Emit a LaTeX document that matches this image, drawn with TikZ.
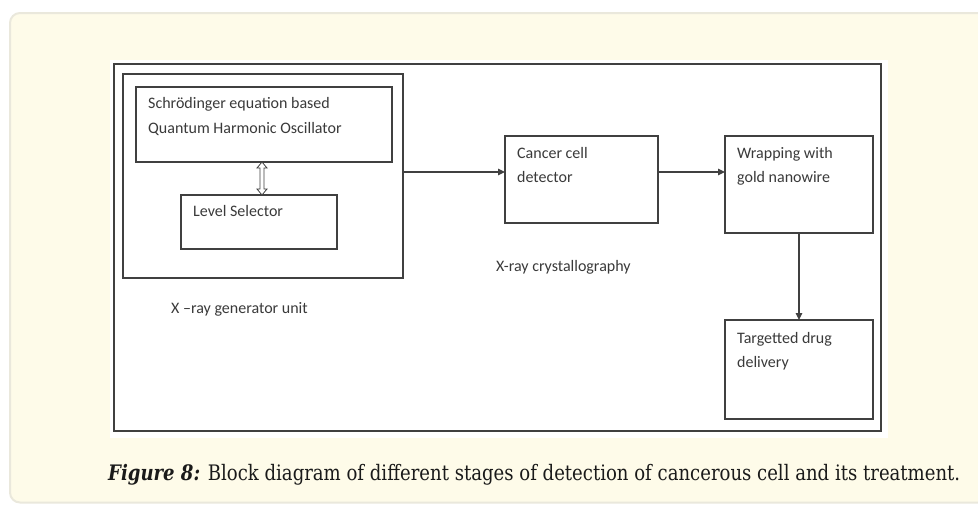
\documentclass[tikz,border=0pt]{standalone}
\usepackage{graphicx}
\usepackage{fontspec}
\setmainfont{Carlito}
\newfontfamily\capfont{DejaVu Serif}
\usetikzlibrary{arrows.meta}
\definecolor{cream}{HTML}{FEFBE9}
\definecolor{panelline}{HTML}{EAE8DC}
\definecolor{boxline}{HTML}{404040}
\definecolor{txt}{HTML}{3A3A3A}
\definecolor{captxt}{HTML}{1A1A1A}
\tikzset{
  blk/.style={draw=boxline, line width=1.2pt, inner sep=0pt, outer sep=0pt, fill=white},
  lbl/.style={anchor=base west, inner sep=0pt, text=txt, font=\fontsize{16}{20}\selectfont},
  conn/.style={draw=boxline, line width=1.1pt, -{Triangle[length=7pt,width=6.5pt]}},
}
\begin{document}
\begin{tikzpicture}[x=1pt,y=-1pt]
\useasboundingbox (0,0) rectangle (978,504);
% panel
\draw[rounded corners=10pt, fill=cream, draw=panelline, line width=2pt] (10,13) rectangle (1010,502.5);
\fill[white] (110,60) rectangle (888,438);
% frame and blocks
\node[blk, line width=1.4pt, minimum width=767pt, minimum height=367pt] (frame) at (497.5,247.5) {};
\node[blk, minimum width=280pt, minimum height=204pt] (grp) at (263,176) {};
\node[blk, minimum width=256pt, minimum height=75pt] (qho) at (264,124.5) {};
\node[blk, minimum width=156pt, minimum height=54pt] (lvl) at (259,222) {};
\node[blk, minimum width=153pt, minimum height=87pt] (cancer) at (581.5,179.5) {};
\node[blk, minimum width=148pt, minimum height=97pt] (wrap) at (799,184.5) {};
\node[blk, minimum width=148pt, minimum height=99pt] (targ) at (799,369.5) {};
% texts
\node[lbl] (qho1) at (148,108) {Schrödinger equation based};
\node[lbl] (qho2) at (148,133) {Quantum Harmonic Oscillator};
\node[lbl] (lvl1) at (193,216) {Level Selector};
\node[lbl] (can1) at (517,158) {Cancer cell};
\node[lbl] (can2) at (517,182) {detector};
\node[lbl] (wrp1) at (737,158) {Wrapping with};
\node[lbl] (wrp2) at (737,182) {gold nanowire};
\node[lbl] (trg1) at (737,343) {Targetted drug};
\node[lbl] (trg2) at (737,367) {delivery};
\node[lbl] (gen) at (171,313) {X –ray generator unit};
\node[lbl] (xcr) at (496,271) {X-ray crystallography};
% connectors
\coordinate (ay) at (0,172);
\draw[conn] (grp.east |- ay) -- (cancer.west |- ay);
\draw[conn] (cancer.east |- ay) -- (wrap.west |- ay);
\draw[conn] (wrap.south) -- (targ.north);
% hollow double arrow
\coordinate (da1) at ([xshift=-2pt]qho.south);
\coordinate (da2) at (da1 |- lvl.north);
\draw[draw=boxline, line width=0.8pt, fill=white, line join=miter]
  (da1) -- ++(5,6) -- ++(-3,0) -- ([shift={(2,-6)}]da2) -- ++(3,0) -- (da2)
  -- ++(-5,-6) -- ++(3,0) -- ([shift={(-2,6)}]da1) -- ++(-3,0) -- cycle;
% caption
\node[anchor=base west, inner sep=0pt, text=captxt] (cap) at (108,480)
  {\scalebox{1}[1.18]{\resizebox{852pt}{!}{\capfont\textbf{\textit{Figure 8:}} Block diagram of different stages of detection of cancerous cell and its treatment.}}};
\end{tikzpicture}
\end{document}
